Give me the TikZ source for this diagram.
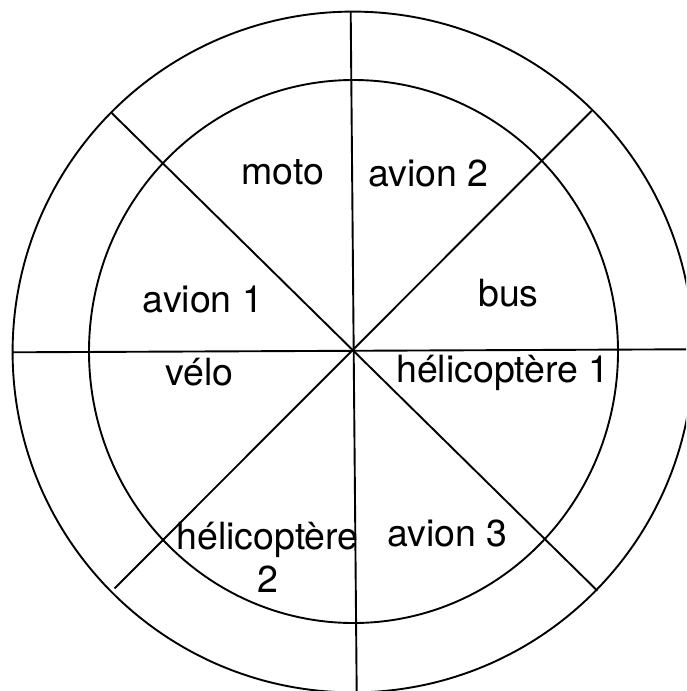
\documentclass[tikz,border=0pt]{standalone}
\usepackage{fontspec}
\setmainfont{TeX Gyre Heros}
\begin{document}
\begin{tikzpicture}[x=1pt,y=-1pt,
  ring/.style={line width=1.9pt},
  spoke/.style={line width=1.9pt},
  lbl/.style={anchor=base,inner sep=0pt,font=\fontsize{37.5}{42}\selectfont}]
\useasboundingbox (0,0) rectangle (686,691);
\clip (0,0) rectangle (686,691);
\coordinate (c) at (353,352);
\draw[ring] (c) circle [radius=340.4];
\draw[ring] (353.5,351.5) ellipse [x radius=264.5,y radius=271.5];
\coordinate (vt) at (350.7,11.7);
\coordinate (vb) at (356.7,693);
\coordinate (hl) at (12.7,352.3);
\coordinate (hr) at (687,349.3);
\coordinate (d1a) at (111.6,112.9);
\coordinate (d1b) at (597.3,590.7);
\coordinate (d2a) at (591.7,110.7);
\coordinate (d2b) at (114.6,588.4);
\draw[spoke] (vt) -- (vb);
\draw[spoke] (hl) -- (hr);
\draw[spoke] (d1a) -- (d1b);
\draw[spoke] (d2a) -- (d2b);
\node[lbl] (moto) at (282.6,184.6) {moto};
\node[lbl] (av2) at (428.3,186) {avion 2};
\node[lbl] (av1) at (203,312.8) {avion 1};
\node[lbl] (bus) at (508.4,306) {bus};
\node[lbl] (velo) at (199.7,385) {vélo};
\node[lbl] (he1) at (503,382.8) {hélicoptère 1};
\node[lbl] (he2) at (267.5,549) {hélicoptère};
\node[lbl] (he2b) at (268,592.8) {2};
\node[lbl] (av3) at (447.3,546) {avion 3};
\end{tikzpicture}
\end{document}
